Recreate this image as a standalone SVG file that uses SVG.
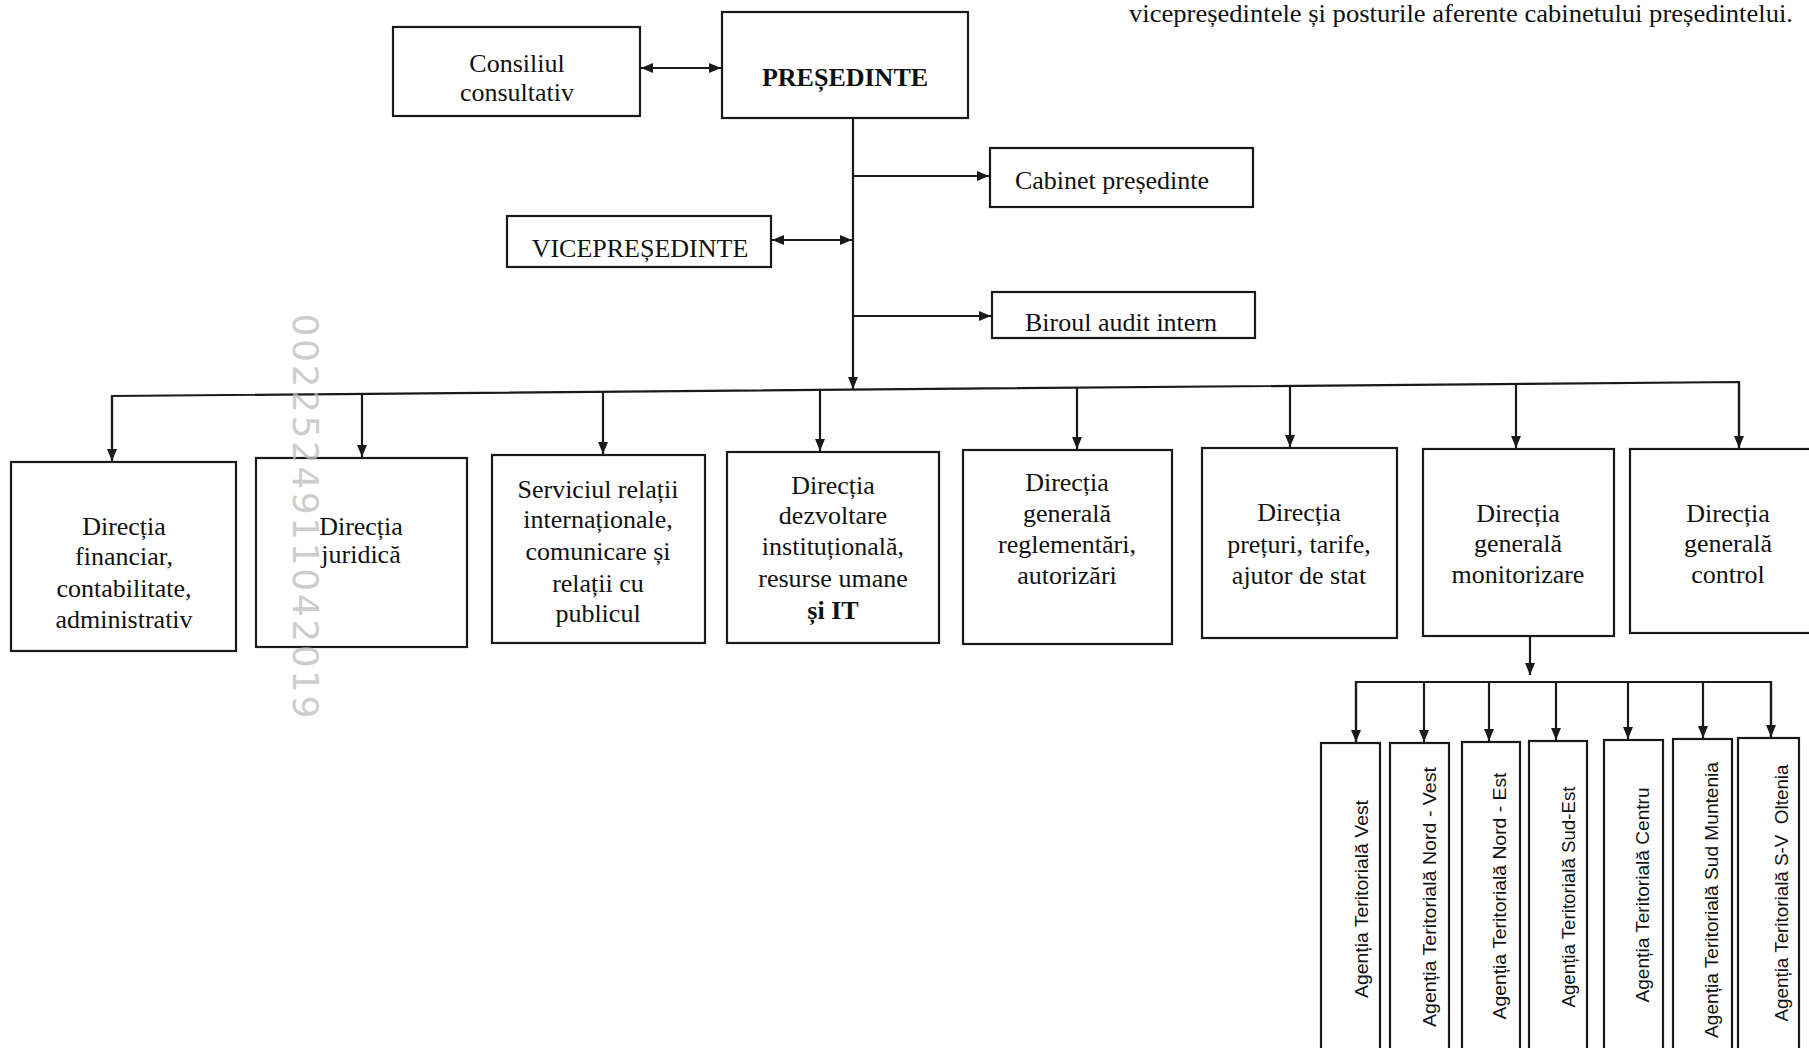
<svg xmlns="http://www.w3.org/2000/svg" width="1809" height="1048" viewBox="0 0 1809 1048">
<style>
.box{fill:#fff;stroke:#1a1a1a;stroke-width:2.2}
.t{font-family:"Liberation Serif","Times New Roman",serif;font-size:26px;fill:#111;text-anchor:middle}
.b{font-weight:bold}
.a{font-family:"Liberation Sans",Arial,sans-serif;font-size:18px;fill:#111;text-anchor:middle}
.c{fill:none;stroke:#1a1a1a;stroke-width:2.2}
.arr{marker-end:url(#ah)}
.dbl{marker-end:url(#ah);marker-start:url(#ah)}
.stamp{font-family:"DejaVu Sans","Liberation Sans",sans-serif;font-size:36px;fill:#bdbdbd;fill-opacity:0.75;text-anchor:middle}
</style>
<defs>
<marker id="ah" markerUnits="userSpaceOnUse" viewBox="0 0 12 10" refX="12" refY="5" markerWidth="12" markerHeight="10" orient="auto-start-reverse">
<path d="M0,0 L12,5 L0,10 z" fill="#1a1a1a"/>
</marker>
</defs>
<rect width="1809" height="1048" fill="#fff"/>
<text class="t" x="1129" y="22" style="text-anchor:start;font-size:25px" textLength="664" lengthAdjust="spacingAndGlyphs">vicepreședintele și posturile aferente cabinetului președintelui.</text>
<g id="connectors">
<line class="c dbl" x1="641" y1="68" x2="721" y2="68"/>
<line class="c arr" x1="853" y1="118" x2="853" y2="389"/>
<line class="c arr" x1="853" y1="176" x2="989" y2="176"/>
<line class="c dbl" x1="772" y1="240" x2="852" y2="240"/>
<line class="c arr" x1="853" y1="316" x2="991" y2="316"/>
<polyline class="c" points="112,460 112,396 1739,382 1739,448"/>
<line class="c arr" x1="112" y1="396" x2="112" y2="461"/>
<line class="c arr" x1="362" y1="394" x2="362" y2="457"/>
<line class="c arr" x1="603" y1="392" x2="603" y2="454"/>
<line class="c arr" x1="820" y1="390" x2="820" y2="451"/>
<line class="c arr" x1="1077" y1="388" x2="1077" y2="449"/>
<line class="c arr" x1="1290" y1="386" x2="1290" y2="447"/>
<line class="c arr" x1="1516" y1="384" x2="1516" y2="448"/>
<line class="c arr" x1="1739" y1="382" x2="1739" y2="448"/>
<line class="c arr" x1="1530" y1="636" x2="1530" y2="675"/>
<polyline class="c" points="1356,742 1356,682 1771,682 1771,737"/>
<line class="c arr" x1="1356" y1="682" x2="1356" y2="742"/>
<line class="c arr" x1="1424" y1="682" x2="1424" y2="742"/>
<line class="c arr" x1="1489" y1="682" x2="1489" y2="741"/>
<line class="c arr" x1="1556" y1="682" x2="1556" y2="740"/>
<line class="c arr" x1="1628" y1="682" x2="1628" y2="739"/>
<line class="c arr" x1="1703" y1="682" x2="1703" y2="738"/>
<line class="c arr" x1="1771" y1="682" x2="1771" y2="737"/>
</g>
<g id="consiliul"><rect class="box" x="393" y="27" width="247" height="89"/>
<text class="t" x="517" y="72">Consiliul</text><text class="t" x="517" y="101">consultativ</text></g>
<g id="presedinte"><rect class="box" x="722" y="12" width="246" height="106"/>
<text class="t b" x="845" y="86">PREȘEDINTE</text></g>
<g id="cabinet"><rect class="box" x="990" y="148" width="263" height="59"/>
<text class="t" x="1112" y="189">Cabinet președinte</text></g>
<g id="vicepresedinte"><rect class="box" x="507" y="216" width="264" height="51"/>
<text class="t" x="640" y="257">VICEPREȘEDINTE</text></g>
<g id="biroul"><rect class="box" x="992" y="292" width="263" height="46"/>
<text class="t" x="1121" y="331">Biroul audit intern</text></g>
<g id="dir-financiar"><rect class="box" x="11" y="462" width="225" height="189"/>
<text class="t" x="124" y="535">Direcția</text><text class="t" x="124" y="565">financiar,</text><text class="t" x="124" y="597">contabilitate,</text><text class="t" x="124" y="628">administrativ</text></g>
<g id="dir-juridica"><rect class="box" x="256" y="458" width="211" height="189"/>
<text class="t" x="361" y="535">Direcția</text><text class="t" x="361" y="563">juridică</text></g>
<g id="serviciul"><rect class="box" x="492" y="455" width="213" height="188"/>
<text class="t" x="598" y="498">Serviciul relații</text><text class="t" x="598" y="528">internaționale,</text><text class="t" x="598" y="560">comunicare și</text><text class="t" x="598" y="592">relații cu</text><text class="t" x="598" y="622">publicul</text></g>
<g id="dir-dezvoltare"><rect class="box" x="727" y="452" width="212" height="191"/>
<text class="t" x="833" y="494">Direcția</text><text class="t" x="833" y="524">dezvoltare</text><text class="t" x="833" y="555">instituțională,</text><text class="t" x="833" y="587">resurse umane</text><text class="t b" x="833" y="619">și IT</text></g>
<g id="dir-reglementari"><rect class="box" x="963" y="450" width="209" height="194"/>
<text class="t" x="1067" y="491">Direcția</text><text class="t" x="1067" y="522">generală</text><text class="t" x="1067" y="553">reglementări,</text><text class="t" x="1067" y="584">autorizări</text></g>
<g id="dir-preturi"><rect class="box" x="1202" y="448" width="195" height="190"/>
<text class="t" x="1299" y="521">Direcția</text><text class="t" x="1299" y="553">prețuri, tarife,</text><text class="t" x="1299" y="584">ajutor de stat</text></g>
<g id="dir-monitorizare"><rect class="box" x="1423" y="449" width="191" height="187"/>
<text class="t" x="1518" y="522">Direcția</text><text class="t" x="1518" y="552">generală</text><text class="t" x="1518" y="583">monitorizare</text></g>
<g id="dir-control"><rect class="box" x="1630" y="449" width="185" height="184"/>
<text class="t" x="1728" y="522">Direcția</text><text class="t" x="1728" y="552">generală</text><text class="t" x="1728" y="583">control</text></g>
<g id="at-vest"><rect class="box" x="1321" y="743" width="59" height="320"/>
<text class="a" transform="translate(1368,899) rotate(-90)" textLength="198" lengthAdjust="spacingAndGlyphs">Agenția Teritorială Vest</text></g>
<g id="at-nord-vest"><rect class="box" x="1390" y="743" width="59" height="320"/>
<text class="a" transform="translate(1436,897) rotate(-90)" textLength="260" lengthAdjust="spacingAndGlyphs">Agenția Teritorială Nord - Vest</text></g>
<g id="at-nord-est"><rect class="box" x="1462" y="742" width="58" height="320"/>
<text class="a" transform="translate(1506,896) rotate(-90)" textLength="247" lengthAdjust="spacingAndGlyphs">Agenția Teritorială Nord - Est</text></g>
<g id="at-sud-est"><rect class="box" x="1529" y="741" width="58" height="320"/>
<text class="a" transform="translate(1575,897) rotate(-90)" textLength="221" lengthAdjust="spacingAndGlyphs">Agenția Teritorială Sud-Est</text></g>
<g id="at-centru"><rect class="box" x="1604" y="740" width="59" height="320"/>
<text class="a" transform="translate(1649,895) rotate(-90)" textLength="215" lengthAdjust="spacingAndGlyphs">Agenția Teritorială Centru</text></g>
<g id="at-sud-muntenia"><rect class="box" x="1673" y="739" width="59" height="320"/>
<text class="a" transform="translate(1718,900) rotate(-90)" textLength="276" lengthAdjust="spacingAndGlyphs">Agenția Teritorială Sud Muntenia</text></g>
<g id="at-sv-oltenia"><rect class="box" x="1738" y="738" width="61" height="320"/>
<text class="a" transform="translate(1788,893) rotate(-90)" textLength="257" lengthAdjust="spacingAndGlyphs" xml:space="preserve">Agenția Teritorială S-V  Oltenia</text></g>
<text class="stamp" transform="translate(293,516) rotate(90)" textLength="405" lengthAdjust="spacing">0022524911042019</text>
</svg>
